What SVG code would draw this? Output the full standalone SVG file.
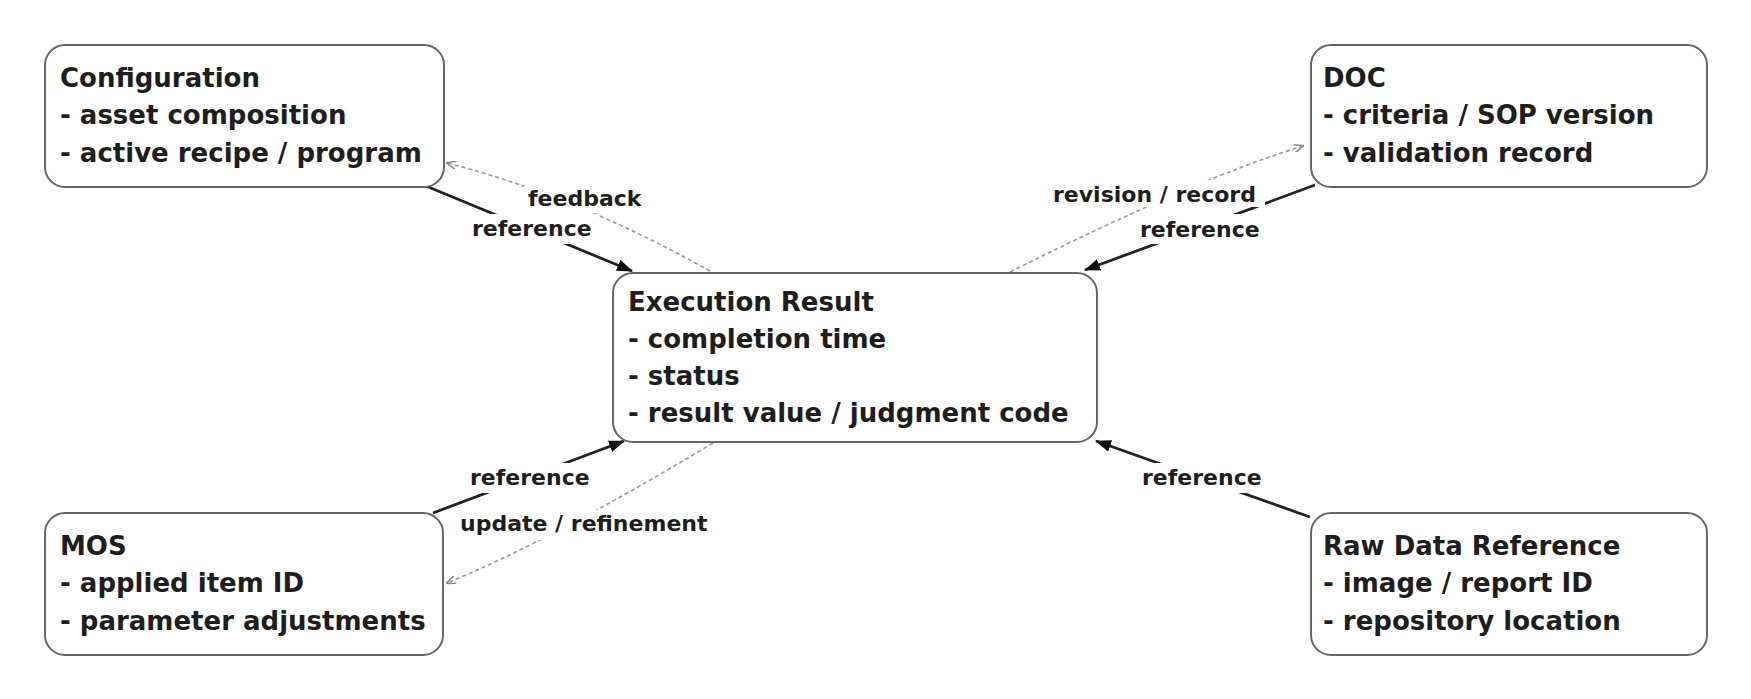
<svg xmlns="http://www.w3.org/2000/svg" width="1751" height="699" viewBox="0 0 1751 699">
<style>
.box{fill:#fff;stroke:#666;stroke-width:2}
.t{font-family:"DejaVu Sans","Liberation Sans",sans-serif;font-weight:bold;font-size:26px;fill:#1e1e1e}
.lbl{font-family:"DejaVu Sans","Liberation Sans",sans-serif;font-weight:bold;font-size:22px;fill:#1e1e1e}
.lbg{fill:#fff}
.solid{fill:none;stroke:#222;stroke-width:2.8;marker-end:url(#ah)}
.dash{fill:none;stroke:#9a9a9a;stroke-width:1.6;stroke-dasharray:4 3;marker-end:url(#ahd)}
</style>
<defs>
<marker id="ah" viewBox="0 0 16 12" refX="15" refY="6" markerWidth="16" markerHeight="12" markerUnits="userSpaceOnUse" orient="auto">
<path d="M0,0 L16,6 L0,12 z" fill="#111"/>
</marker>
<marker id="ahd" viewBox="0 0 10 8" refX="9" refY="4" markerWidth="10" markerHeight="8" markerUnits="userSpaceOnUse" orient="auto">
<path d="M0,0 L10,4 L0,8" fill="none" stroke="#8a8a8a" stroke-width="1.5"/>
</marker>
</defs>
<rect width="1751" height="699" fill="#fff"/>
<g id="connectors">
<path class="solid" d="M426,186 L632,271"/>
<path class="solid" d="M1315,185 L1085,270"/>
<path class="solid" d="M433,513 L624,441"/>
<path class="solid" d="M1310,517 L1096,441"/>
<path class="dash" d="M710,271 Q574,195 447,163"/>
<path class="dash" d="M1010,272 Q1200,177 1303,146"/>
<path class="dash" d="M713,443 Q550,541 447,583"/>
<rect class="lbg" x="524" y="186" width="124" height="27"/>
<text class="lbl" x="528" y="206">feedback</text>
<rect class="lbg" x="468" y="214" width="129" height="30"/>
<text class="lbl" x="472" y="236">reference</text>
<rect class="lbg" x="1049" y="180" width="216" height="27"/>
<text class="lbl" x="1053" y="202">revision / record</text>
<rect class="lbg" x="1136" y="214" width="129" height="30"/>
<text class="lbl" x="1140" y="237">reference</text>
<rect class="lbg" x="466" y="463" width="129" height="30"/>
<text class="lbl" x="470" y="485">reference</text>
<rect class="lbg" x="456" y="510" width="256" height="30"/>
<text class="lbl" x="460" y="531">update / refinement</text>
<rect class="lbg" x="1138" y="463" width="129" height="30"/>
<text class="lbl" x="1142" y="485">reference</text>
</g>
<g id="configuration">
<rect class="box" x="45" y="45" width="399" height="142" rx="20"/>
<text class="t" x="60" y="87">Configuration</text>
<text class="t" x="60" y="124">- asset composition</text>
<text class="t" x="60" y="162">- active recipe / program</text>
</g>
<g id="doc">
<rect class="box" x="1311" y="45" width="396" height="142" rx="20"/>
<text class="t" x="1323" y="87">DOC</text>
<text class="t" x="1323" y="124">- criteria / SOP version</text>
<text class="t" x="1323" y="162">- validation record</text>
</g>
<g id="execution-result">
<rect class="box" x="613" y="273" width="484" height="169" rx="20"/>
<text class="t" x="628" y="311">Execution Result</text>
<text class="t" x="628" y="348">- completion time</text>
<text class="t" x="628" y="385">- status</text>
<text class="t" x="628" y="422">- result value / judgment code</text>
</g>
<g id="mos">
<rect class="box" x="45" y="513" width="398" height="142" rx="20"/>
<text class="t" x="60" y="555">MOS</text>
<text class="t" x="60" y="592">- applied item ID</text>
<text class="t" x="60" y="630">- parameter adjustments</text>
</g>
<g id="raw-data-reference">
<rect class="box" x="1311" y="513" width="396" height="142" rx="20"/>
<text class="t" x="1323" y="555">Raw Data Reference</text>
<text class="t" x="1323" y="592">- image / report ID</text>
<text class="t" x="1323" y="630">- repository location</text>
</g>
</svg>
